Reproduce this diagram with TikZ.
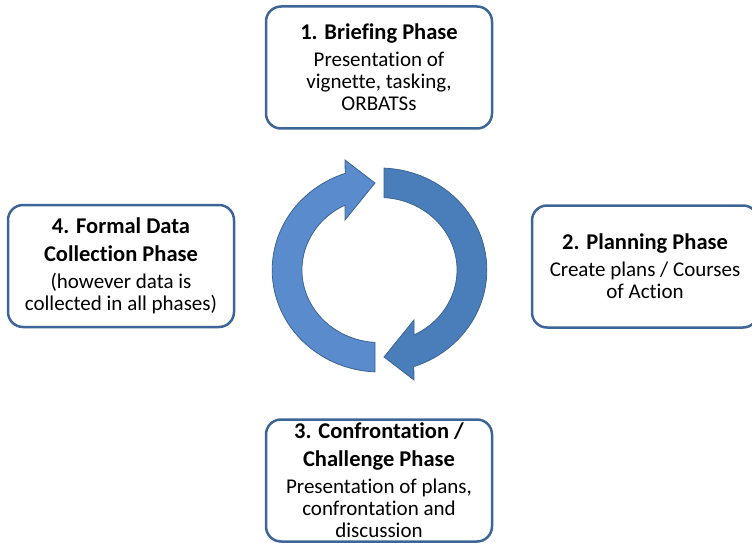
\documentclass[tikz,border=0pt]{standalone}
\usepackage{fontspec}
\setmainfont{Carlito}[Ligatures={NoCommon}]
\usetikzlibrary{positioning}
\definecolor{frame}{HTML}{3D6597}
\definecolor{cycleA}{HTML}{5A8CCD}
\definecolor{cycleB}{HTML}{4A7EBB}
\definecolor{cycleline}{HTML}{3A6491}
\newcommand{\phasetitle}[1]{{\bfseries\fontsize{22.5}{28}\selectfont #1}}

\begin{document}
\begin{tikzpicture}[
  x=1pt, y=1pt,
  every node/.style={font=\fontsize{21}{22}\selectfont},
  phase/.style={draw=frame, line width=2.5pt, rounded corners=15pt, fill=white,
                minimum width=226pt, minimum height=122pt, align=center, inner sep=2pt},
  cycarrow/.style={draw=cycleline, line width=0.8pt, line join=miter}
]
  \useasboundingbox (0,0) rectangle (752,542);
  \clip (0,0) rectangle (752,542);

  % centre of the cycle
  \coordinate (cc) at (379.5,272);

  % left half: up from the bottom, head pointing right at the top
  \begin{scope}[shift={(cc)}]
    \draw[cycarrow, fill=cycleA] (-4.5,-101.9)
      arc[start angle=267.5, end angle=108.7, x radius=107.5pt, y radius=102pt]
      -- (-34.5,110) -- (-4.5,87) -- (-34.5,50) -- (-34.5,64.9)
      arc[start angle=116.4, end angle=266.7, x radius=77.5pt, y radius=72.5pt]
      -- cycle;
  \end{scope}
  % right half: same shape turned half way round
  \begin{scope}[shift={(cc)}, rotate=180]
    \draw[cycarrow, fill=cycleB] (-4.5,-101.9)
      arc[start angle=267.5, end angle=108.7, x radius=107.5pt, y radius=102pt]
      -- (-34.5,110) -- (-4.5,87) -- (-34.5,50) -- (-34.5,64.9)
      arc[start angle=116.4, end angle=266.7, x radius=77.5pt, y radius=72.5pt]
      -- cycle;
  \end{scope}

  \node[phase] (briefing) at (379,474.5)
    {\phasetitle{1. Briefing Phase}\\[5pt] Presentation of\\ vignette, tasking,\\ ORBATSs};
  \node[phase] (planning) at (645,275.5)
    {\phasetitle{2. Planning Phase}\\[5pt] Create plans / Courses\\ of Action};
  \node[phase] (confront) at (379,61.5)
    {\phasetitle{3. Confrontation /}\\[6pt] \phasetitle{Challenge Phase}\\[5pt]
     Presentation of plans,\\ confrontation and\\ discussion};
  \node[phase] (collect) at (121,276)
    {\phasetitle{4. Formal Data}\\[6pt] \phasetitle{Collection Phase}\\[5pt]
     (however data is\\ collected in all phases)};
\end{tikzpicture}
\end{document}
